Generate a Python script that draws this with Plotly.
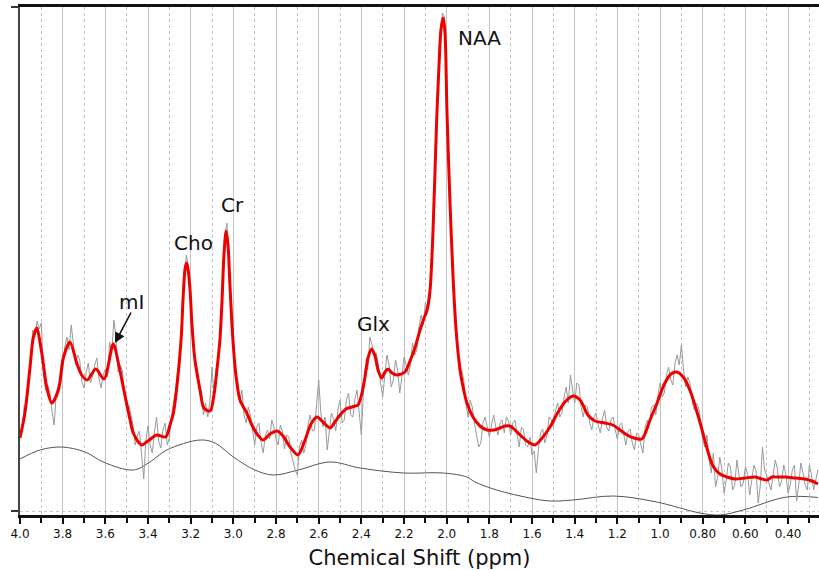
import plotly.graph_objects as go

# ---- fitted spectrum (red) ----
fit_ppm = [4.000, 3.977, 3.953, 3.938, 3.922, 3.898, 3.875, 3.851, 3.820, 3.797, 3.766, 3.734, 3.711,
           3.685, 3.645, 3.606, 3.563, 3.539, 3.516, 3.484, 3.469, 3.430, 3.400, 3.359, 3.317, 3.297,
           3.281, 3.264, 3.245, 3.236, 3.227, 3.220, 3.213, 3.203, 3.194, 3.180, 3.156, 3.138, 3.109,
           3.091, 3.077, 3.063, 3.053, 3.044, 3.034, 3.025, 3.016, 3.002, 2.988, 2.969, 2.937, 2.913,
           2.889, 2.861, 2.828, 2.795, 2.767, 2.734, 2.697, 2.664, 2.636, 2.608, 2.580, 2.547, 2.524,
           2.500, 2.472, 2.444, 2.416, 2.397, 2.383, 2.369, 2.352, 2.336, 2.322, 2.305, 2.289, 2.275,
           2.256, 2.233, 2.196, 2.172, 2.149, 2.125, 2.106, 2.092, 2.078, 2.064, 2.047, 2.036, 2.027,
           2.017, 2.008, 1.999, 1.985, 1.970, 1.956, 1.942, 1.928, 1.905, 1.877, 1.844, 1.811, 1.778,
           1.750, 1.727, 1.703, 1.680, 1.656, 1.624, 1.586, 1.549, 1.516, 1.483, 1.446, 1.408, 1.375,
           1.338, 1.305, 1.258, 1.221, 1.188, 1.155, 1.122, 1.085, 1.047, 1.014, 0.982, 0.949, 0.921,
           0.888, 0.855, 0.827, 0.803, 0.775, 0.752, 0.719, 0.686, 0.649, 0.602, 0.555, 0.522, 0.499,
           0.475, 0.452, 0.414, 0.367, 0.321, 0.288, 0.260]
fit_val = [77, 102, 148, 177, 187, 162, 128, 112, 125, 157, 173, 152, 140,
           135, 146, 136, 171, 152, 128, 95, 82, 70, 74, 80, 78, 90,
           102, 130, 175, 215, 245, 252, 247, 225, 190, 155, 125, 107, 104,
           120, 145, 175, 215, 260, 284, 270, 230, 175, 140, 115, 102, 90,
           81, 75, 81, 84, 79, 68, 60, 75, 91, 98, 93, 87, 93,
           100, 106, 108, 110, 122, 138, 157, 166, 159, 145, 137, 143, 146,
           142, 140, 143, 154, 167, 185, 197, 205, 225, 285, 395, 450, 485,
           497, 482, 405, 315, 237, 185, 153, 133, 112, 98, 89, 85, 85,
           87, 89, 89, 85, 80, 74, 70, 78, 88, 101, 113, 119, 115,
           100, 94, 92, 90, 85, 80, 77, 76, 95, 112, 130, 141, 143,
           137, 122, 103, 85, 63, 49, 41, 38, 36, 37, 38, 36, 35,
           38, 38, 38, 37, 36, 34, 31]

# ---- raw spectrum (grey, noisy), sampled every 0.01 ppm ----
raw_ppm = [4.00, 3.99, 3.98, 3.97, 3.96, 3.95, 3.94, 3.93, 3.92, 3.91,
           3.90, 3.89, 3.88, 3.87, 3.86, 3.85, 3.84, 3.83, 3.82, 3.81,
           3.80, 3.79, 3.78, 3.77, 3.76, 3.75, 3.74, 3.73, 3.72, 3.71,
           3.70, 3.69, 3.68, 3.67, 3.66, 3.65, 3.64, 3.63, 3.62, 3.61,
           3.60, 3.59, 3.58, 3.57, 3.56, 3.55, 3.54, 3.53, 3.52, 3.51,
           3.50, 3.49, 3.48, 3.47, 3.46, 3.45, 3.44, 3.43, 3.42, 3.41,
           3.40, 3.39, 3.38, 3.37, 3.36, 3.35, 3.34, 3.33, 3.32, 3.31,
           3.30, 3.29, 3.28, 3.27, 3.26, 3.25, 3.24, 3.23, 3.22, 3.21,
           3.20, 3.19, 3.18, 3.17, 3.16, 3.15, 3.14, 3.13, 3.12, 3.11,
           3.10, 3.09, 3.08, 3.07, 3.06, 3.05, 3.04, 3.03, 3.02, 3.01,
           3.00, 2.99, 2.98, 2.97, 2.96, 2.95, 2.94, 2.93, 2.92, 2.91,
           2.90, 2.89, 2.88, 2.87, 2.86, 2.85, 2.84, 2.83, 2.82, 2.81,
           2.80, 2.79, 2.78, 2.77, 2.76, 2.75, 2.74, 2.73, 2.72, 2.71,
           2.70, 2.69, 2.68, 2.67, 2.66, 2.65, 2.64, 2.63, 2.62, 2.61,
           2.60, 2.59, 2.58, 2.57, 2.56, 2.55, 2.54, 2.53, 2.52, 2.51,
           2.50, 2.49, 2.48, 2.47, 2.46, 2.45, 2.44, 2.43, 2.42, 2.41,
           2.40, 2.39, 2.38, 2.37, 2.36, 2.35, 2.34, 2.33, 2.32, 2.31,
           2.30, 2.29, 2.28, 2.27, 2.26, 2.25, 2.24, 2.23, 2.22, 2.21,
           2.20, 2.19, 2.18, 2.17, 2.16, 2.15, 2.14, 2.13, 2.12, 2.11,
           2.10, 2.09, 2.08, 2.07, 2.06, 2.05, 2.04, 2.03, 2.02, 2.01,
           2.00, 1.99, 1.98, 1.97, 1.96, 1.95, 1.94, 1.93, 1.92, 1.91,
           1.90, 1.89, 1.88, 1.87, 1.86, 1.85, 1.84, 1.83, 1.82, 1.81,
           1.80, 1.79, 1.78, 1.77, 1.76, 1.75, 1.74, 1.73, 1.72, 1.71,
           1.70, 1.69, 1.68, 1.67, 1.66, 1.65, 1.64, 1.63, 1.62, 1.61,
           1.60, 1.59, 1.58, 1.57, 1.56, 1.55, 1.54, 1.53, 1.52, 1.51,
           1.50, 1.49, 1.48, 1.47, 1.46, 1.45, 1.44, 1.43, 1.42, 1.41,
           1.40, 1.39, 1.38, 1.37, 1.36, 1.35, 1.34, 1.33, 1.32, 1.31,
           1.30, 1.29, 1.28, 1.27, 1.26, 1.25, 1.24, 1.23, 1.22, 1.21,
           1.20, 1.19, 1.18, 1.17, 1.16, 1.15, 1.14, 1.13, 1.12, 1.11,
           1.10, 1.09, 1.08, 1.07, 1.06, 1.05, 1.04, 1.03, 1.02, 1.01,
           1.00, 0.99, 0.98, 0.97, 0.96, 0.95, 0.94, 0.93, 0.92, 0.91,
           0.90, 0.89, 0.88, 0.87, 0.86, 0.85, 0.84, 0.83, 0.82, 0.81,
           0.80, 0.79, 0.78, 0.77, 0.76, 0.75, 0.74, 0.73, 0.72, 0.71,
           0.70, 0.69, 0.68, 0.67, 0.66, 0.65, 0.64, 0.63, 0.62, 0.61,
           0.60, 0.59, 0.58, 0.57, 0.56, 0.55, 0.54, 0.53, 0.52, 0.51,
           0.50, 0.49, 0.48, 0.47, 0.46, 0.45, 0.44, 0.43, 0.42, 0.41,
           0.40, 0.39, 0.38, 0.37, 0.36, 0.35, 0.34, 0.33, 0.32, 0.31,
           0.30, 0.29, 0.28, 0.27, 0.26]
raw_val = [80, 84, 110, 108, 127, 162, 185, 178, 194, 186,
           192, 140, 125, 130, 123, 104, 90, 122, 131, 130,
           145, 168, 178, 165, 190, 172, 150, 160, 155, 133,
           127, 142, 152, 132, 138, 150, 157, 137, 127, 140,
           146, 138, 173, 162, 195, 178, 143, 150, 144, 118,
           107, 110, 101, 90, 70, 80, 84, 60, 36, 75,
           89, 70, 62, 82, 98, 74, 67, 85, 92, 70,
           77, 100, 114, 126, 146, 160, 192, 240, 260, 247,
           212, 187, 150, 148, 126, 124, 100, 112, 98, 113,
           148, 118, 146, 158, 190, 222, 280, 292, 255, 200,
           176, 140, 135, 112, 125, 100, 92, 108, 100, 82,
           70, 88, 92, 72, 62, 80, 85, 76, 95, 88,
           76, 70, 90, 84, 66, 80, 78, 62, 52, 45,
           40, 68, 75, 62, 70, 90, 100, 84, 85, 110,
           135, 102, 88, 98, 65, 84, 102, 96, 84, 105,
           115, 92, 95, 115, 122, 100, 98, 116, 125, 102,
           80, 125, 150, 145, 178, 170, 160, 162, 150, 132,
           118, 140, 160, 150, 128, 135, 155, 145, 122, 138,
           158, 150, 140, 150, 172, 160, 165, 188, 200, 190,
           212, 205, 215, 262, 295, 378, 430, 482, 502, 498,
           420, 340, 298, 230, 205, 175, 140, 145, 135, 112,
           98, 115, 108, 92, 80, 68, 72, 92, 98, 88,
           78, 90, 100, 88, 80, 92, 95, 82, 98, 94,
           80, 92, 95, 80, 68, 88, 85, 70, 68, 78,
           60, 64, 42, 66, 82, 86, 72, 80, 98, 95,
           88, 104, 112, 98, 102, 118, 128, 112, 140, 125,
           112, 132, 130, 108, 98, 110, 108, 92, 85, 98,
           102, 90, 82, 96, 105, 88, 84, 95, 98, 85,
           76, 90, 92, 80, 70, 84, 86, 72, 65, 82,
           80, 70, 62, 88, 95, 90, 108, 110, 100, 120,
           132, 118, 122, 140, 148, 135, 130, 152, 160, 150,
           170, 145, 128, 138, 132, 115, 105, 112, 108, 95,
           75, 68, 80, 55, 42, 62, 28, 38, 58, 45,
           22, 35, 52, 48, 25, 30, 55, 40, 28, 32,
           48, 42, 20, 35, 50, 44, 12, 30, 68, 45,
           40, 32, 25, 40, 55, 46, 28, 34, 50, 40,
           22, 30, 45, 50, 14, 30, 52, 42, 30, 25,
           50, 40, 25, 35, 45]

# ---- baseline (dark grey) ----
base_ppm = [4.000, 3.906, 3.805, 3.695, 3.610, 3.469, 3.391, 3.312, 3.156, 3.086, 3.000, 2.899,
            2.813, 2.696, 2.547, 2.406, 2.203, 2.016, 1.906, 1.867, 1.766, 1.610, 1.516, 1.408,
            1.219, 1.016, 0.813, 0.719, 0.610, 0.406, 0.260]
base_val = [56, 65, 68, 63, 53, 45, 53, 65, 75, 72, 58, 45,
            40, 45, 53, 47, 42, 42, 38, 33, 25, 17, 14, 15,
            19, 13, 2, 0, 5, 18, 17.5]

# ---- axis ticks ----
tick_vals = [4.0, 3.8, 3.6, 3.4, 3.2, 3.0, 2.8, 2.6, 2.4, 2.2, 2.0, 1.8, 1.6, 1.4, 1.2, 1.0, 0.8, 0.6, 0.4]
tick_text = ["4.0", "3.8", "3.6", "3.4", "3.2", "3.0", "2.8", "2.6", "2.4", "2.2", "2.0", "1.8",
             "1.6", "1.4", "1.2", "1.0", "0.80", "0.60", "0.40"]
minor_vals = [3.9, 3.7, 3.5, 3.3, 3.1, 2.9, 2.7, 2.5, 2.3, 2.1, 1.9, 1.7, 1.5, 1.3, 1.1, 0.9, 0.7, 0.5, 0.3]

# ---- peak labels ----
label_text = ["NAA", "Cr", "Cho", "mI", "Glx"]
label_ppm = [1.844, 3.006, 3.189, 3.477, 2.345]
label_val = [477, 310, 272, 213, 191]

FONT = "DejaVu Sans"
GRID = "#c4c4c4"

fig = go.Figure()
fig.add_trace(go.Scatter(x=base_ppm, y=base_val, mode="lines", line=dict(color="#555555", width=1, shape="spline"),
                         hoverinfo="skip"))
fig.add_trace(go.Scatter(x=raw_ppm, y=raw_val, mode="lines", line=dict(color="#9a9a9a", width=1),
                         hoverinfo="skip"))
fig.add_trace(go.Scatter(x=fit_ppm, y=fit_val, mode="lines",
                         line=dict(color="#ee0000", width=3, shape="spline", smoothing=0.8),
                         hoverinfo="skip"))

for t, px, py in zip(label_text, label_ppm, label_val):
    fig.add_annotation(x=px, y=py, text=t, showarrow=False, xref="x", yref="y",
                       font=dict(family=FONT, size=20, color="#111111"))

# arrow for mI
fig.add_annotation(x=3.555, y=172, ax=3.476, ay=204, axref="x", ayref="y", xref="x", yref="y",
                   text="", showarrow=True, arrowhead=2, arrowsize=1.3, arrowwidth=1.6, arrowcolor="#111111")

fig.update_layout(
    width=819, height=570,
    margin=dict(l=20, r=0, t=7, b=55),
    paper_bgcolor="white", plot_bgcolor="white",
    showlegend=False,
    font=dict(family=FONT, color="#111111"),
    xaxis=dict(
        range=[4.0, 0.255], tickmode="array", tickvals=tick_vals, ticktext=tick_text,
        tickfont=dict(family=FONT, size=12, color="#111111"),
        ticks="outside", ticklen=6, tickwidth=2, tickcolor="#111111",
        showline=True, linecolor="#111111", linewidth=3, mirror=True,
        showgrid=True, gridcolor=GRID, gridwidth=1,
        minor=dict(tickvals=minor_vals, ticks="outside", ticklen=5, tickwidth=2, tickcolor="#111111",
                   showgrid=True, gridcolor=GRID, gridwidth=1, griddash="dot"),
        title=dict(text="Chemical Shift (ppm)", font=dict(family=FONT, size=21, color="#111111"), standoff=12),
        zeroline=False,
    ),
    yaxis=dict(
        range=[0, 508], tickmode="array", tickvals=[4, 508], showticklabels=False,
        ticks="outside", ticklen=7, tickwidth=2, tickcolor="#333333",
        showline=True, linecolor="#444444", linewidth=2,
        showgrid=True, gridcolor=GRID, gridwidth=1, griddash="dot",
        zeroline=False,
    ),
)

fig.write_html("out.html")
